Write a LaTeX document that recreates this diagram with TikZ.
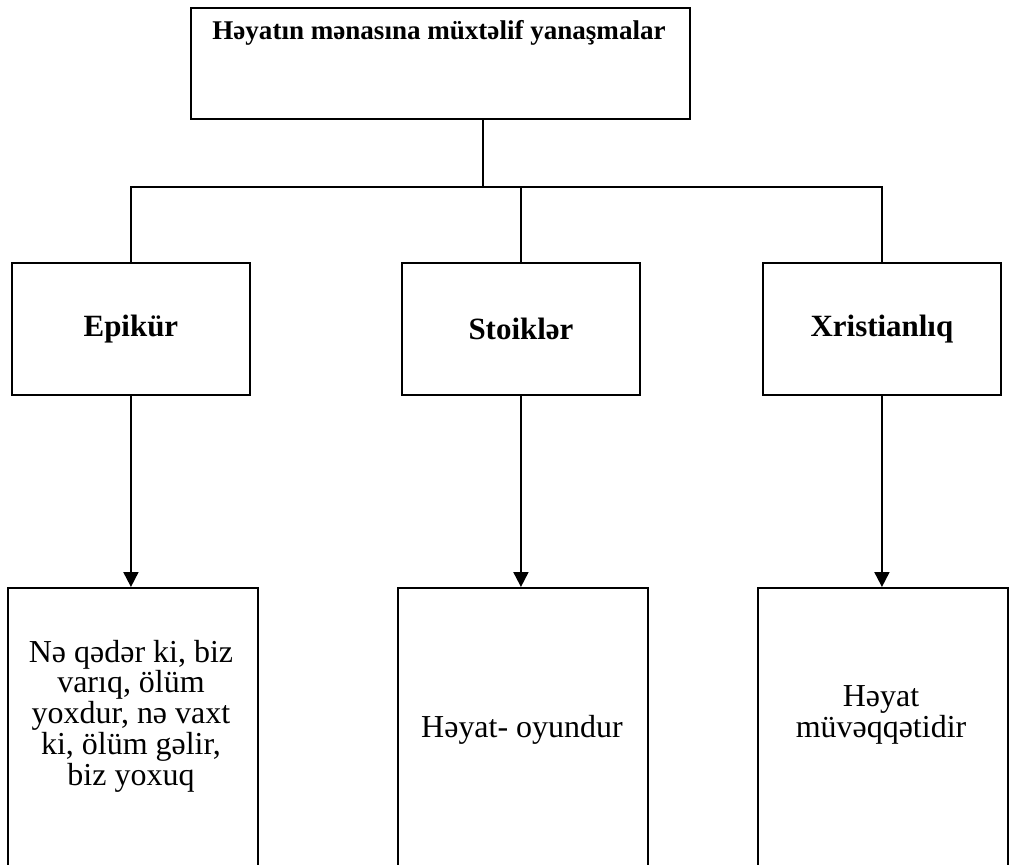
\documentclass[tikz,border=0pt]{standalone}
\usepackage{fontspec}
\setmainfont{Liberation Serif}
\usetikzlibrary{arrows.meta}

\begin{document}
\begin{tikzpicture}[x=0.02cm,y=-0.02cm,box/.style={draw,line width=1.1pt,rectangle,anchor=north west,inner sep=0pt},headbox/.style={box,minimum width=4.76cm,minimum height=2.64cm,font=\fontsize{17.6}{20}\selectfont\bfseries},resbox/.style={box,minimum width=5cm,minimum height=6cm},restext/.style={align=center,inner sep=0pt,font=\fontsize{18.2}{16.1}\selectfont},link/.style={line width=1.1pt},arr/.style={line width=1.1pt,-{Triangle[length=3mm,width=3mm]}}]
\clip (0,0) rectangle (1011,865);
\node[box,minimum width=9.98cm,minimum height=2.22cm] (top) at (190,7) {};
\node[inner sep=0pt,font=\fontsize{15.4}{18}\selectfont\bfseries] (toptxt) at (439,33) {Həyatın mənasına müxtəlif yanaşmalar};
\node[headbox] (epik) at (11,262) {Epikür};
\node[headbox] (stoik) at (401,262) {Stoiklər};
\node[headbox] (xrist) at (762,262) {Xristianlıq};
\node[resbox] (epikres) at (7,587) {};
\node[resbox] (stoikres) at (397,587) {};
\node[resbox] (xristres) at (757,587) {};
\node[restext] (epiktxt) at (131,716) {Nə qədər ki, biz\\varıq, ölüm\\yoxdur, nə vaxt\\ki, ölüm gəlir,\\biz yoxuq};
\node[restext] (stoiktxt) at (522,730) {Həyat- oyundur};
\node[restext] (xristtxt) at (881,715) {Həyat\\müvəqqətidir};
\coordinate (hub) at (483,187);
\draw[link] (top.south -| hub) -- (hub);
\draw[link] (epik.north) -- (epik.north |- hub) -- (xrist.north |- hub) -- (xrist.north);
\draw[link] (stoik.north) -- (stoik.north |- hub);
\draw[arr] (epik.south) -- (epik.south |- epikres.north);
\draw[arr] (stoik.south) -- (stoik.south |- stoikres.north);
\draw[arr] (xrist.south) -- (xrist.south |- xristres.north);
\end{tikzpicture}
\end{document}
